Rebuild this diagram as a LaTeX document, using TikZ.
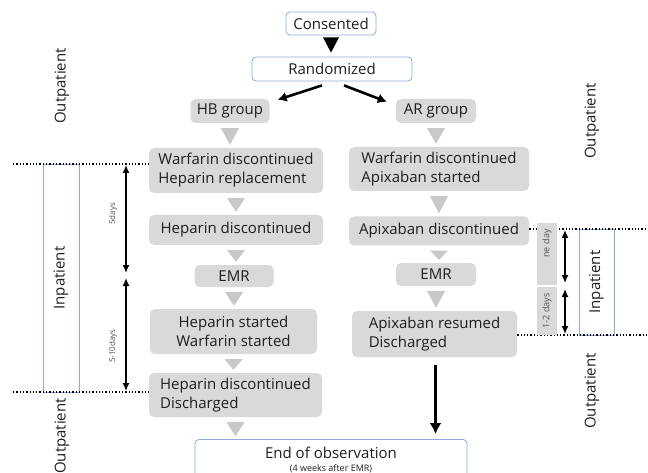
\documentclass[tikz,border=0pt]{standalone}
\usepackage{fontspec}
\setmainfont{Open Sans}
\usetikzlibrary{calc,positioning}
\usetikzlibrary{arrows.meta}
\tikzset{>={Latex[width=3mm,length=3mm]}}
\definecolor{box_gray}{RGB}{217,217,217}
\definecolor{tri_gray}{RGB}{200,200,200}
\definecolor{line_blue}{RGB}{143,170,220}
\definecolor{text_dark}{RGB}{30,30,30}
\definecolor{label_gray}{RGB}{80,80,80}

\begin{document}
\begin{tikzpicture}[x=1pt,y=-1pt,
    every node/.style={font=\fontsize{15}{19}\selectfont, text=text_dark},
    graybox/.style={fill=box_gray, rounded corners=5pt, inner sep=0pt, align=left},
    whitebox/.style={draw=line_blue, fill=white, rounded corners=4pt, inner sep=0pt, line width=0.8pt},
    sidelabel/.style={rotate=90},
    inbox/.style={draw=line_blue, rotate=90, inner sep=0pt, line width=0.6pt},
    dayslabel/.style={rotate=90, font=\fontsize{8}{9}\selectfont, text=label_gray},
    daybox/.style={rotate=90, fill=box_gray, inner sep=0pt, font=\fontsize{9}{10}\selectfont, text=label_gray},
    dotline/.style={dotted, line width=1.3pt},
    span/.style={{Latex[width=7pt,length=8pt]}-{Latex[width=7pt,length=8pt]}, line width=1.5pt},
    bigarrow/.style={-{Latex[width=10pt,length=9pt]}, line width=2.6pt},
    downtri/.style={fill=tri_gray},
  ]
  \useasboundingbox (0,0) rectangle (648,473);
  \clip (0,0) rectangle (648,473);

  % top
  \node[whitebox, minimum width=90pt, minimum height=23pt] (consented) at (331,23.5) {Consented};
  \node[whitebox, minimum width=160pt, minimum height=24pt] (randomized) at (332,69) {Randomized};

  % HB group
  \node[graybox, minimum width=79pt, minimum height=24pt] (hb) at (230,111) {HB group};
  \node[graybox, minimum width=174pt, minimum height=45pt] (hbone) at (236,170.5) {Warfarin discontinued\\Heparin replacement};
  \node[graybox, minimum width=174pt, minimum height=30pt] (hbtwo) at (236,230) {Heparin discontinued};
  \node[graybox, minimum width=79pt, minimum height=22pt] (hbemr) at (234,276) {EMR};
  \node[graybox, minimum width=167pt, minimum height=45pt, align=center] (hbthree) at (233.5,331.5) {Heparin started\\Warfarin started};
  \node[graybox, minimum width=173pt, minimum height=44pt] (hbfour) at (235.5,395) {Heparin discontinued\\Discharged};

  % AR group
  \node[graybox, minimum width=80pt, minimum height=24pt] (ar) at (436,111) {AR group};
  \node[graybox, minimum width=180pt, minimum height=44pt] (arone) at (439,169) {Warfarin discontinued\\Apixaban started};
  \node[graybox, minimum width=180pt, minimum height=29pt] (artwo) at (439,231) {Apixaban discontinued};
  \node[graybox, minimum width=80pt, minimum height=23pt] (aremr) at (436,274.5) {EMR};
  \node[graybox, minimum width=165pt, minimum height=46pt] (arthree) at (434.5,334) {Apixaban resumed\\Discharged};

  \node[whitebox, minimum width=272pt, anchor=north, align=center, inner ysep=8pt] (endobs) at (331,439) {End of observation\\[-6pt]{\fontsize{9}{10}\selectfont(4 weeks after EMR)}};

  % arrows
  \fill ($(consented.south)+(-8,2)$) -- ($(consented.south)+(8,2)$) -- ($(consented.south |- randomized.north)+(0,-4)$) -- cycle;
  \draw[bigarrow] ($(randomized.south)+(-10,4)$) -- ($(hb.north east)+(8,1)$);
  \draw[bigarrow] ($(randomized.south)+(12,4)$) -- ($(ar.north west)+(-9,3)$);
  \foreach \a/\b in {hb/hbone, hbone/hbtwo, hbtwo/hbemr, hbemr/hbthree, hbthree/hbfour, hbfour/endobs, ar/arone, arone/artwo, artwo/aremr, aremr/arthree}
    \fill[downtri] ($(\a.south)+(-9,5)$) -- ($(\a.south)+(9,5)$) -- ($(\a.south |- \b.north)+(0,-3)$) -- cycle;
  \draw[bigarrow, line width=3pt, -{Latex[width=12pt,length=11pt]}] ($(arthree.south)+(1,8)$) -- ($(arthree.south |- endobs.north)+(1,-5)$);

  % stay, left side
  \node[sidelabel] (outtopl) at (62,86) {Outpatient};
  \node[inbox, minimum width=228pt, minimum height=36pt] (inl) at (61,278) {Inpatient};
  \node[sidelabel] (outbotl) at (62,436) {Outpatient};
  \coordinate (ltop) at (13,164);
  \coordinate (lbot) at (13,392);
  \draw[dotline] (ltop) -- (ltop -| hbone.west);
  \draw[dotline] (lbot) -- (lbot -| hbfour.west);
  \coordinate (sa) at (126,165);
  \coordinate (sb) at (126,273);
  \coordinate (sc) at (126,278);
  \coordinate (sd) at (126,391);
  \draw[span] (sa) -- (sb);
  \draw[span] (sc) -- (sd);
  \node[dayslabel] (fived) at (113,214) {5days};
  \node[dayslabel] (tend) at (113,346) {5-10days};

  % stay, right side
  \node[sidelabel] (outtopr) at (592,121) {Outpatient};
  \node[inbox, minimum width=106pt, minimum height=35pt] (inr) at (596.5,282) {Inpatient};
  \node[sidelabel] (outbotr) at (592,391) {Outpatient};
  \coordinate (rtop) at (648,229);
  \coordinate (rbot) at (648,335);
  \draw[dotline] (rtop -| artwo.east) -- (rtop);
  \draw[dotline] (rbot -| arthree.east) -- (rbot);
  \node[daybox, minimum width=62pt, minimum height=20pt, text width=50pt, align=right] (oneday) at (547,254) {ne day};
  \node[daybox, minimum width=48pt, minimum height=20pt] (twod) at (547,311) {1-2 days};
  \coordinate (se) at (565,230);
  \coordinate (sf) at (565,283);
  \coordinate (sg) at (565,289);
  \coordinate (sh) at (565,334);
  \draw[span] (se) -- (sf);
  \draw[span] (sg) -- (sh);
\end{tikzpicture}
\end{document}
